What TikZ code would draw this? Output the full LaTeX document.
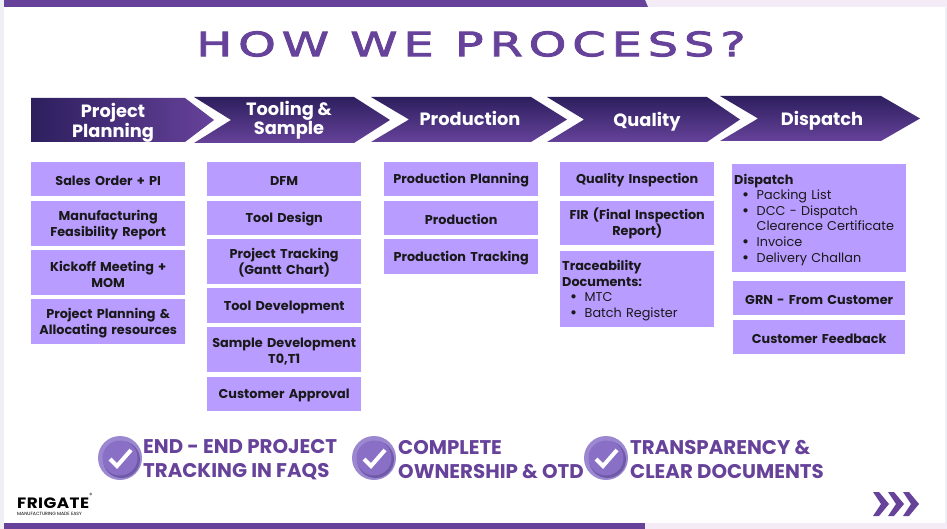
\documentclass[tikz,border=0pt]{standalone}
\usepackage{fontspec}
\setmainfont{Poppins}
\newfontfamily\titlefont[FakeStretch=1.43,LetterSpace=17.5,FakeBold=2.6]{DejaVu Sans}
\newfontfamily\logofont[FakeStretch=1.12,LetterSpace=3]{Poppins Bold}
\usepackage{xcolor}
\usepackage{tikz}
\definecolor{frameblue}{HTML}{EEF0F6}
\definecolor{barlight}{HTML}{F3ECF7}
\definecolor{brandpurple}{HTML}{66429A}
\definecolor{darkpurple}{HTML}{2D1F5E}
\definecolor{boxpurple}{HTML}{B89CFF}
\definecolor{ringpurple}{HTML}{9C88D0}
\definecolor{discpurple}{HTML}{8A6FC6}
\definecolor{discshade}{HTML}{6F5AA8}
\newcommand{\bigbullet}{\raisebox{-1pt}{\fontsize{17}{15}\selectfont\textbullet}}
\newcommand{\bulletline}[1]{\par\hspace*{8pt}\makebox[14.5pt][l]{\bigbullet}#1}
\newcommand{\bulletcont}[1]{\par\hspace*{22.5pt}#1}

\begin{document}
\begin{tikzpicture}[x=1pt,y=-1pt,
            stagelabel/.style={text=white,font=\fontsize{17.8}{18}\selectfont\bfseries,align=center,inner sep=0pt},
            taskbox/.style={fill=boxpurple,text=black!90,anchor=north west,inner sep=2pt,text width=150pt,align=center,font=\fontsize{12.8}{16}\selectfont\bfseries,execute at begin node={\rule{0pt}{13pt}}},
            listbox/.style={taskbox,align=left,font=\fontsize{12.8}{15.6}\selectfont},
            promise/.style={text=brandpurple,anchor=west,align=left,inner sep=0pt,font=\fontsize{19.8}{24}\selectfont\bfseries},
            tickring/.style={circle,fill=ringpurple,minimum size=44pt,inner sep=0pt},
            tickdisc/.style={circle,fill=discpurple,minimum size=35pt,inner sep=0pt},
            tickmark/.style={draw=white,line width=4pt,line join=miter}
        ]
            \useasboundingbox (0,0) rectangle (947,529);

            % Page
            \fill[frameblue] (0,0) rectangle (947,529);
            \fill[white] (4,7) rectangle (945,523);
            \fill[barlight] (4,0) rectangle (947,7);
            \fill[brandpurple] (4,0) -- (645,0) -- (648,7) -- (4,7) -- cycle;
            \fill[barlight] (4,523) rectangle (947,529);
            \fill[brandpurple] (4,523) rectangle (645,529);

            % Title
            \node[text=brandpurple,inner sep=0pt,font=\titlefont\fontsize{33.5}{34}\selectfont] (title) at (471,44) {HOW WE PROCESS?};

            % Stages
            \shade[left color=darkpurple,right color=brandpurple] (31,98) -- (185,98) -- (214,120) -- (185,142) -- (31,142) -- cycle;
            \foreach \xa/\xb/\xc/\xd/\yt/\yb in {194/231/354/390/97/143, 371/409/531/567/97/142, 547/584/707/740/97/142, 720/758/881/920/96/141}
                \shade[top color=darkpurple,bottom color=brandpurple] (\xa,\yt) -- (\xb,\yt/2+\yb/2) -- (\xa,\yb) -- (\xc,\yb) -- (\xd,\yt/2+\yb/2) -- (\xc,\yt) -- cycle;

            \node[stagelabel] (S1) at (113,123) {Project\\Planning};
            \node[stagelabel] (S2) at (289,120) {Tooling \&\\Sample};
            \node[stagelabel] (S3) at (470,118.5) {Production};
            \node[stagelabel] (S4) at (647,121.5) {Quality};
            \node[stagelabel] (S5) at (822,120.5) {Dispatch};

            % Project planning
            \foreach \i/\ya/\hh/\txt in {1/162/34/{Sales Order + PI}, 2/201/45/{Manufacturing\\Feasibility Report}, 3/250/45/{Kickoff Meeting +\\MOM}, 4/299/45/{Project Planning \&\\Allocating resources}}
                \node[taskbox,minimum height=\hh pt] (P\i) at (31,\ya) {\txt};

            % Tooling and sample
            \foreach \i/\ya/\hh/\txt in {1/162/34/{DFM}, 2/201/34/{Tool Design}, 3/239/45/{Project Tracking\\(Gantt Chart)}, 4/288/35/{Tool Development}, 5/327/45/{Sample Development\\T0,T1}, 6/377/34/{Customer Approval}}
                \node[taskbox,minimum height=\hh pt] (T\i) at (207,\ya) {\txt};

            % Production
            \foreach \i/\ya/\hh/\txt in {1/162/34/{Production Planning}, 2/201/34/{Production}, 3/239/35/{Production Tracking}}
                \node[taskbox,minimum height=\hh pt] (M\i) at (384,\ya) {\txt};

            % Quality
            \foreach \i/\ya/\hh/\txt in {1/162/34/{Quality Inspection}, 2/201/44/{FIR (Final Inspection\\Report)}}
                \node[taskbox,minimum height=\hh pt] (Q\i) at (560,\ya) {\txt};
            \node[listbox,minimum height=76pt] (Q3) at (560,251) {\textbf{Traceability}\par\textbf{Documents:}\bulletline{MTC}\bulletline{Batch Register}};

            % Dispatch
            \node[listbox,text width=170pt,minimum height=108pt] (D1) at (732,164) {\textbf{Dispatch}\bulletline{Packing List}\bulletline{DCC - Dispatch}\bulletcont{Clearence Certificate}\bulletline{Invoice}\bulletline{Delivery Challan}};
            \foreach \i/\ya/\txt in {2/281/{GRN - From Customer}, 3/320/{Customer Feedback}}
                \node[taskbox,text width=168pt,minimum height=34pt] (D\i) at (733,\ya) {\txt};

            % Promises
            \foreach \i/\x in {1/120, 2/374, 3/606} {
                \node[tickring] (C\i) at (\x,458) {};
                \fill[discshade] ([shift={(1.5,1.5)}]C\i.center) circle (18.5);
                \node[tickdisc] (R\i) at (C\i) {};
                \draw[tickmark] ([shift={(-10,1)}]R\i.center) -- ([shift={(-3,8)}]R\i.center) -- ([shift={(11,-8)}]R\i.center);
            }
            \node[promise] (E1) at (143,459.5) {END - END PROJECT\\TRACKING IN FAQS};
            \node[promise] (E2) at (398,459.5) {COMPLETE\\OWNERSHIP \& OTD};
            \node[promise] (E3) at (630,459.5) {TRANSPARENCY \&\\CLEAR DOCUMENTS};

            % Logo
            \node[anchor=west,inner sep=0pt,font=\logofont\fontsize{15}{15}\selectfont] (logo) at (17,503) {FRIGATE};
            \node[anchor=west,inner sep=0pt,font=\fontsize{4.6}{5}\selectfont] (tagline) at (17,513.5) {MANUFACTURING MADE EASY};
            \node[inner sep=0pt,font=\fontsize{6}{6}\selectfont] (reg) at (91,495) {\textregistered};

            % Arrows
            \foreach \x in {873,888,903}
                \fill[brandpurple] (\x,492) -- (\x+6,492) -- (\x+16,504) -- (\x+6,516) -- (\x,516) -- (\x+8,504) -- cycle;
        \end{tikzpicture}
\end{document}
